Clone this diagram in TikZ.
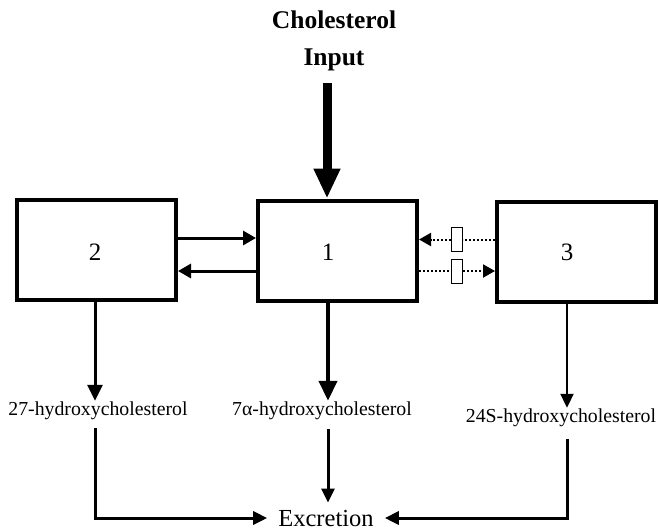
\documentclass[tikz,border=0pt]{standalone}
\usepackage{fontspec}
\setmainfont{Liberation Serif}
\usetikzlibrary{arrows.meta}

\tikzset{
	pool/.style={draw,line width=4pt,minimum width=159pt,minimum height=100pt,inner sep=0pt},
	num/.style={font=\fontsize{25}{30}\selectfont},
	metab/.style={font=\fontsize{19.8}{24}\selectfont,inner sep=1pt},
	headline/.style={font=\fontsize{25.5}{37}\selectfont\bfseries,align=center},
	gate/.style={draw,fill=white,line width=1pt,minimum width=11pt,minimum height=24pt,inner sep=0pt},
	feed/.style={line width=9pt,-{Triangle[length=30pt,width=25pt]}},
	flux/.style={line width=3pt,-{Triangle[length=13pt,width=14pt]}},
	leak/.style={line width=2pt,dash pattern=on 2pt off 2pt},
	leakhead/.style={leak,-{Triangle[length=12pt,width=13pt]}},
	drain/.style={line width=3pt,-{Triangle[length=16pt,width=15pt]}},
	bigdrain/.style={line width=4pt,-{Triangle[length=20pt,width=18pt]}},
	thindrain/.style={line width=2pt,-{Triangle[length=14pt,width=13pt]}},
	outflow/.style={line width=3pt,-{Triangle[length=14pt,width=13pt]}}
}

\begin{document}
\begin{tikzpicture}[x=1pt,y=-1pt]
	\useasboundingbox (0,0) rectangle (659,531);

	\node[headline] (input) at (334,41) {Cholesterol\\Input};

	\node[pool] (b2) at (96.5,250) {};
	\node[pool] (b1) at (337.5,250.5) {};
	\node[pool] (b3) at (576.5,252) {};
	\node[num] (n2) at (95,252) {2};
	\node[num] (n1) at (328,252) {1};
	\node[num] (n3) at (567,252) {3};

	\node[gate] (g1) at (457,239.5) {};
	\node[gate] (g2) at (457,271) {};

	\node[metab] (m2) at (98,411) {27-hydroxycholesterol};
	\node[metab] (m1) at (322,411) {7α-hydroxycholesterol};
	\node[metab] (m3) at (561,418) {24S-hydroxycholesterol};
	\node[font=\fontsize{24.5}{30}\selectfont,inner xsep=11pt,inner ysep=1pt] (ex) at (326,518) {Excretion};

	\coordinate (top) at (327,83);
	\coordinate (hi) at (0,238);
	\coordinate (lo) at (0,271);

	\draw[feed] (top) -- (top |- b1.north);

	\draw[flux] (b2.east |- hi) -- (b1.west |- hi);
	\draw[flux] (b1.west |- lo) -- (b2.east |- lo);

	\draw[leak] (g1 -| b3.west) -- (g1);
	\draw[leakhead] (g1) -- (g1 -| b1.east);
	\draw[leak] (g2 -| b1.east) -- (g2);
	\draw[leakhead] (g2) -- (g2 -| b3.west);

	\draw[drain] (n2 |- b2.south) -- (n2 |- m2.north);
	\draw[bigdrain] (n1 |- b1.south) -- (n1 |- m1.north);
	\draw[thindrain] (n3 |- b3.south) -- (n3 |- m3.north);

	\draw[outflow,shorten <=7pt] (n2 |- m2.south) |- (ex.west);
	\draw[outflow,shorten <=8pt,shorten >=6pt] (n1 |- m1.south) -- (n1 |- ex.north);
	\draw[outflow,shorten <=11pt] (n3 |- m3.south) |- (ex.east);
\end{tikzpicture}
\end{document}
